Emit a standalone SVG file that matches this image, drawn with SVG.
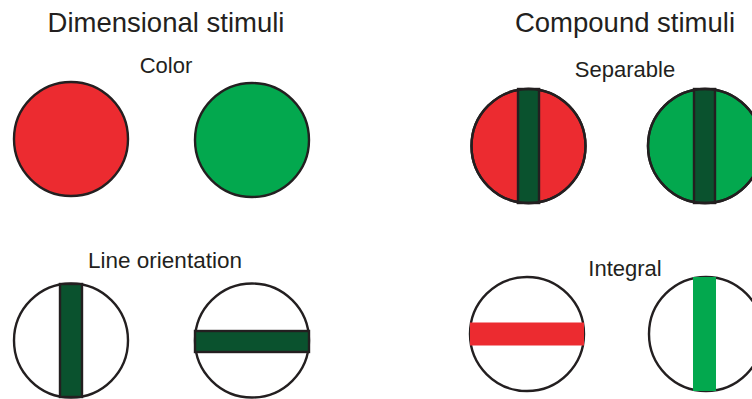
<svg xmlns="http://www.w3.org/2000/svg" width="752" height="399" viewBox="0 0 752 399">
<style>
text{font-family:"Liberation Sans",Arial,sans-serif;fill:#231f20;text-anchor:middle}
.t{font-size:27.5px}
.s{font-size:22px}
.o{stroke:#231f20;stroke-width:2.4}
.red{fill:#ec2b30}.grn{fill:#03a84e}.dk{fill:#0a522e}.wh{fill:#fff}
</style>
<rect width="752" height="399" fill="#fff"/>
<text class="t" x="166" y="32">Dimensional stimuli</text>
<text class="t" x="625" y="32">Compound stimuli</text>
<g id="color">
<text class="s" x="166" y="73">Color</text>
<circle class="red o" cx="71" cy="139" r="57"/>
<circle class="grn o" cx="252" cy="140" r="57"/>
</g>
<g id="separable">
<text class="s" x="625" y="77">Separable</text>
<circle class="red o" cx="528.5" cy="146" r="57"/>
<rect class="dk o" x="518" y="89" width="21" height="114"/>
<circle fill="none" class="o" cx="528.5" cy="146" r="57"/>
<circle class="grn o" cx="705" cy="146" r="57"/>
<rect class="dk o" x="694" y="89" width="21" height="114"/>
<circle fill="none" class="o" cx="705" cy="146" r="57"/>
</g>
<g id="line-orientation">
<text class="s" x="165" y="268" style="font-size:22.5px">Line orientation</text>
<circle class="wh o" cx="71" cy="340.5" r="57"/>
<rect class="dk o" x="60" y="284" width="22" height="113"/>
<circle class="wh o" cx="252" cy="340.5" r="57"/>
<rect class="dk o" x="195" y="331" width="114" height="21"/>
</g>
<g id="integral">
<text class="s" x="625" y="276">Integral</text>
<circle class="wh o" cx="527" cy="334" r="57"/>
<rect class="red" x="470" y="322.5" width="114" height="23"/>
<circle class="wh o" cx="706" cy="334" r="57"/>
<rect class="grn" x="693" y="277" width="23" height="114"/>
</g>
</svg>
